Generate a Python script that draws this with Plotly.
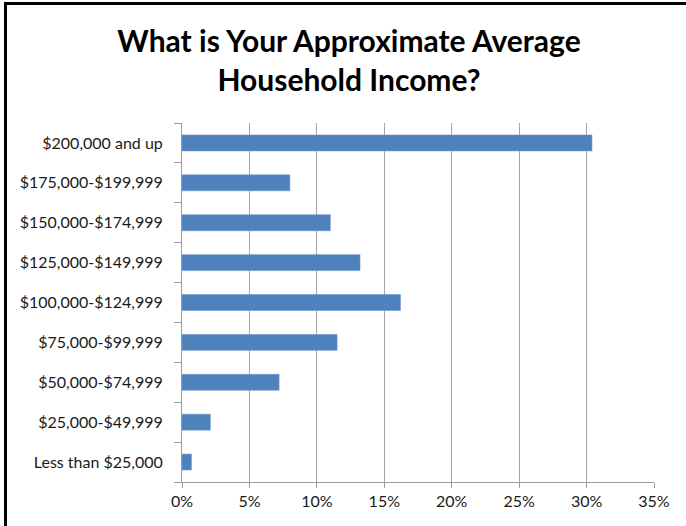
import plotly.graph_objects as go

# Income brackets, listed bottom to top
brackets = [
    "Less than $25,000",
    "$25,000-$49,999",
    "$50,000-$74,999",
    "$75,000-$99,999",
    "$100,000-$124,999",
    "$125,000-$149,999",
    "$150,000-$174,999",
    "$175,000-$199,999",
    "$200,000 and up",
]
# Share of respondents (%)
shares = [0.7, 2.1, 7.2, 11.5, 16.2, 13.2, 11.0, 8.0, 30.4]

x_ticks = [0, 5, 10, 15, 20, 25, 30, 35]
x_tick_labels = [f"{v}%" for v in x_ticks]

W, H = 686, 526
ML, MR, MT, MB = 182, 32, 123, 44

fig = go.Figure(
    go.Bar(
        x=shares,
        y=brackets,
        orientation="h",
        width=0.4,
        marker=dict(color="#4f81bd", line=dict(color="#6f97c9", width=0.6)),
        hoverinfo="x+y",
    )
)

pw = W - ML - MR
ph = H - MT - MB


def px_x(p):
    return (p - ML) / pw


def px_y(p):
    return (H - MB - p) / ph


# black frame along the left and top edges
frame = dict(color="black", width=3)
shapes = [
    dict(type="line", xref="paper", yref="paper",
         x0=px_x(5.5), x1=px_x(5.5), y0=px_y(3.5), y1=px_y(H + 2), line=frame),
    dict(type="line", xref="paper", yref="paper",
         x0=px_x(4), x1=px_x(W + 2), y0=px_y(3.5), y1=px_y(3.5), line=frame),
]

fig.update_layout(
    width=W,
    height=H,
    margin=dict(l=ML, r=MR, t=MT, b=MB),
    paper_bgcolor="white",
    plot_bgcolor="white",
    font=dict(family="Lato, 'Open Sans', sans-serif", size=16, color="#1a1a1a"),
    title=dict(
        text="<b>What is Your Approximate Average<br>Household Income?</b>",
        x=349 / W,
        xref="container",
        xanchor="center",
        y=1 - 52 / H,
        yref="container",
        yanchor="middle",
        font=dict(family="Lato, sans-serif", size=30, color="black"),
    ),
    showlegend=False,
    bargap=0.6,
    shapes=shapes,
)

fig.update_xaxes(
    range=[0, 35],
    tickmode="array",
    tickvals=x_ticks,
    ticktext=x_tick_labels,
    showgrid=True,
    gridcolor="#a6a6a6",
    gridwidth=1,
    showline=True,
    linecolor="#9a9a9a",
    linewidth=1,
    ticks="outside",
    ticklen=5,
    tickcolor="#9a9a9a",
    zeroline=False,
    fixedrange=True,
)

fig.update_yaxes(
    categoryorder="array",
    categoryarray=brackets,
    showgrid=False,
    showline=True,
    linecolor="#9a9a9a",
    linewidth=1,
    ticks="outside",
    ticklen=7,
    tickcolor="#9a9a9a",
    tickson="boundaries",
    ticklabelstandoff=15,
    zeroline=False,
    fixedrange=True,
)

fig.write_html("out.html")
